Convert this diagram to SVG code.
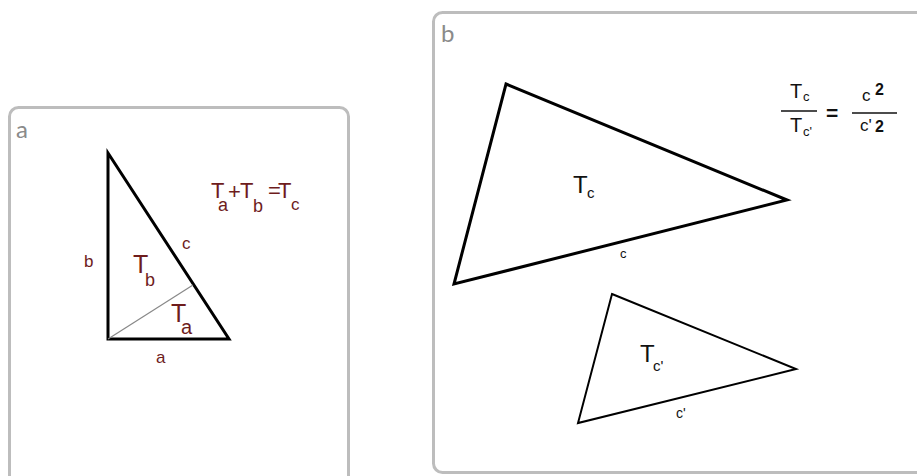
<svg xmlns="http://www.w3.org/2000/svg" width="917" height="476" viewBox="0 0 917 476">
<style>
.panel{fill:#fff;stroke:#bdbdbd;stroke-width:3}
.plabel{font-family:"Lato","Liberation Sans",sans-serif;fill:#8a8a8a;font-size:24px}
.tri{fill:none;stroke:#000;stroke-linejoin:miter}
.ra{font-family:"Liberation Sans",Arial,sans-serif;fill:#6e1c1c}
.bk{font-family:"Liberation Sans",Arial,sans-serif;fill:#111}
</style>
<rect width="917" height="476" fill="#fff"/>
<g id="panel-a">
<rect class="panel" x="9.5" y="107.5" width="339" height="390" rx="9"/>
<text class="plabel" x="16" y="138">a</text>
<polygon class="tri" points="108,153 108,339 229,339" stroke-width="3"/>
<line x1="108" y1="339" x2="193" y2="285" stroke="#888" stroke-width="1.2"/>
<text class="ra" x="84" y="267" font-size="17">b</text>
<text class="ra" x="182" y="249" font-size="17">c</text>
<text class="ra" x="156" y="363" font-size="17">a</text>
<text class="ra" x="133" y="273" font-size="25">T</text>
<text class="ra" x="145" y="286" font-size="18">b</text>
<text class="ra" x="171" y="322" font-size="25">T</text>
<text class="ra" x="181" y="334" font-size="20">a</text>
<text class="ra" font-size="22"><tspan x="211" y="198">T</tspan><tspan x="218" y="211" font-size="18">a</tspan><tspan x="228" y="199">+</tspan><tspan x="240" y="198">T</tspan><tspan x="253" y="212" font-size="18">b</tspan><tspan x="268" y="198">=</tspan><tspan x="278" y="198">T</tspan><tspan x="291" y="210" font-size="17">c</tspan></text>
</g>
<g id="panel-b">
<rect class="panel" x="433.5" y="12.5" width="495" height="460" rx="9"/>
<text class="plabel" x="441" y="42">b</text>
<polygon class="tri" points="506,84 787,200 454,284" stroke-width="3"/>
<polygon class="tri" points="612,294 796,369 578,423" stroke-width="2"/>
<text class="bk" x="620" y="258" font-size="13">c</text>
<text class="bk" x="573" y="193" font-size="24">T</text>
<text class="bk" x="587" y="198" font-size="15">c</text>
<text class="bk" x="640" y="362" font-size="24">T</text>
<text class="bk" x="653" y="371" font-size="15">c'</text>
<text class="bk" x="676" y="418" font-size="14">c'</text>
<text class="bk" x="790" y="98" font-size="20">T</text>
<text class="bk" x="803" y="101" font-size="13">c</text>
<line x1="781" y1="111" x2="817" y2="111" stroke="#111" stroke-width="1.5"/>
<text class="bk" x="790" y="132" font-size="20">T</text>
<text class="bk" x="803" y="136" font-size="13">c'</text>
<text class="bk" x="826" y="120" font-size="21" font-weight="bold">=</text>
<line x1="852" y1="113" x2="897" y2="113" stroke="#111" stroke-width="1.5"/>
<text class="bk" x="862" y="101" font-size="17">c</text>
<text class="bk" x="875" y="95" font-size="16" font-weight="bold">2</text>
<text class="bk" x="860" y="131" font-size="17">c'</text>
<text class="bk" x="875" y="132" font-size="16" font-weight="bold">2</text>
</g>
</svg>
